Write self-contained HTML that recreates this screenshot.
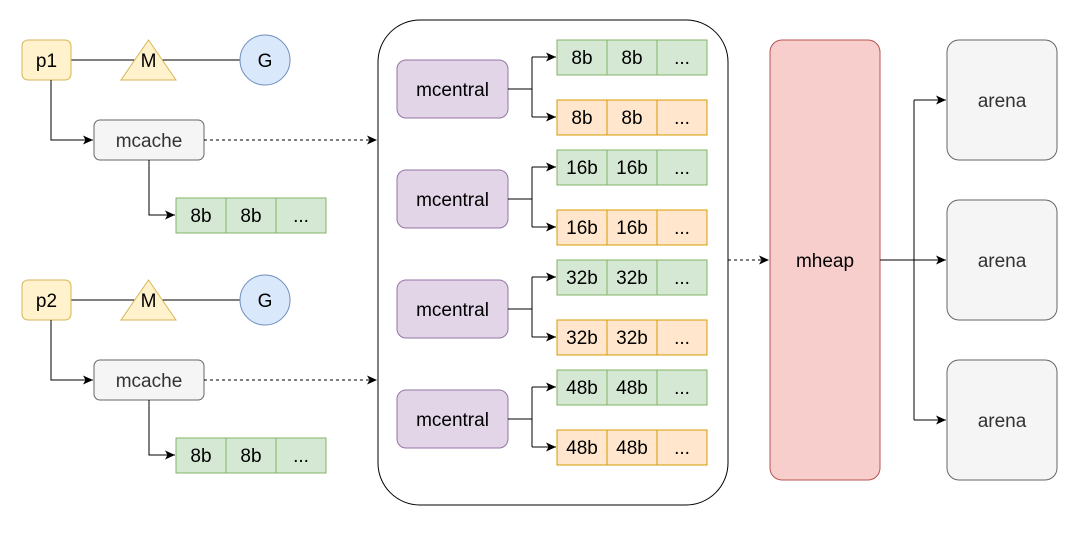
<!DOCTYPE html><html><head><style>body{margin:0;background:#fff}</style></head><body>
<svg width="1078" height="529" xmlns="http://www.w3.org/2000/svg" font-family="Liberation Sans, Arial, sans-serif" font-size="19">
<defs><marker id="a" markerWidth="12" markerHeight="12" refX="11" refY="6" orient="auto" markerUnits="userSpaceOnUse"><path d="M1,1.5 L11,6 L1,10.5 L3.5,6 z" fill="#000"/></marker></defs>
<rect x="378" y="20" width="350" height="485" rx="42" fill="#fff" stroke="#000"/>
<g>
<line x1="71" y1="60" x2="240" y2="60" stroke="#000"/>
<rect x="22" y="40" width="49" height="40" rx="6" fill="#fff2cc" stroke="#d6b656"/>
<text x="46.5" y="67" text-anchor="middle">p1</text>
<polygon points="148.5,40 176,80 121,80" fill="#fff2cc" stroke="#d6b656"/>
<text x="148.5" y="67" text-anchor="middle">M</text>
<circle cx="265" cy="60" r="25" fill="#dae8fc" stroke="#6c8ebf"/>
<text x="265" y="67" text-anchor="middle">G</text>
<path d="M51,80 V140 H93" fill="none" stroke="#000" marker-end="url(#a)"/>
<rect x="94" y="120" width="110" height="40" rx="6" fill="#f5f5f5" stroke="#666"/>
<text x="149" y="147" text-anchor="middle" fill="#333">mcache</text>
<path d="M204,140 H377" fill="none" stroke="#000" stroke-dasharray="3,3" marker-end="url(#a)"/>
<path d="M149,160 V215 H175" fill="none" stroke="#000" marker-end="url(#a)"/>
<g fill="#d5e8d4" stroke="#82b366"><rect x="176" y="198" width="50" height="35"/><rect x="226" y="198" width="50" height="35"/><rect x="276" y="198" width="50" height="35"/></g>
<g text-anchor="middle"><text x="201" y="222">8b</text><text x="251" y="222">8b</text><text x="301" y="222">...</text></g>
</g>
<g transform="translate(0,240)">
<line x1="71" y1="60" x2="240" y2="60" stroke="#000"/>
<rect x="22" y="40" width="49" height="40" rx="6" fill="#fff2cc" stroke="#d6b656"/>
<text x="46.5" y="67" text-anchor="middle">p2</text>
<polygon points="148.5,40 176,80 121,80" fill="#fff2cc" stroke="#d6b656"/>
<text x="148.5" y="67" text-anchor="middle">M</text>
<circle cx="265" cy="60" r="25" fill="#dae8fc" stroke="#6c8ebf"/>
<text x="265" y="67" text-anchor="middle">G</text>
<path d="M51,80 V140 H93" fill="none" stroke="#000" marker-end="url(#a)"/>
<rect x="94" y="120" width="110" height="40" rx="6" fill="#f5f5f5" stroke="#666"/>
<text x="149" y="147" text-anchor="middle" fill="#333">mcache</text>
<path d="M204,140 H377" fill="none" stroke="#000" stroke-dasharray="3,3" marker-end="url(#a)"/>
<path d="M149,160 V215 H175" fill="none" stroke="#000" marker-end="url(#a)"/>
<g fill="#d5e8d4" stroke="#82b366"><rect x="176" y="198" width="50" height="35"/><rect x="226" y="198" width="50" height="35"/><rect x="276" y="198" width="50" height="35"/></g>
<g text-anchor="middle"><text x="201" y="222">8b</text><text x="251" y="222">8b</text><text x="301" y="222">...</text></g>
</g>
<g>
<rect x="397" y="60" width="111" height="58" rx="9" fill="#e1d5e7" stroke="#9673a6"/>
<text x="452.5" y="96" text-anchor="middle">mcentral</text>
<path d="M508,89 H532 V57 M532,89 V117" fill="none" stroke="#000"/>
<path d="M532,57 H556" marker-end="url(#a)" stroke="#000"/><path d="M532,117 H556" marker-end="url(#a)" stroke="#000"/>
<g fill="#d5e8d4" stroke="#82b366"><rect x="557" y="40" width="50" height="35"/><rect x="607" y="40" width="50" height="35"/><rect x="657" y="40" width="50" height="35"/></g>
<g fill="#ffe6cc" stroke="#d79b00"><rect x="557" y="100" width="50" height="35"/><rect x="607" y="100" width="50" height="35"/><rect x="657" y="100" width="50" height="35"/></g>
<g text-anchor="middle"><text x="582" y="64">8b</text><text x="632" y="64">8b</text><text x="682" y="64">...</text><text x="582" y="124">8b</text><text x="632" y="124">8b</text><text x="682" y="124">...</text></g>
</g>
<g transform="translate(0,110)">
<rect x="397" y="60" width="111" height="58" rx="9" fill="#e1d5e7" stroke="#9673a6"/>
<text x="452.5" y="96" text-anchor="middle">mcentral</text>
<path d="M508,89 H532 V57 M532,89 V117" fill="none" stroke="#000"/>
<path d="M532,57 H556" marker-end="url(#a)" stroke="#000"/><path d="M532,117 H556" marker-end="url(#a)" stroke="#000"/>
<g fill="#d5e8d4" stroke="#82b366"><rect x="557" y="40" width="50" height="35"/><rect x="607" y="40" width="50" height="35"/><rect x="657" y="40" width="50" height="35"/></g>
<g fill="#ffe6cc" stroke="#d79b00"><rect x="557" y="100" width="50" height="35"/><rect x="607" y="100" width="50" height="35"/><rect x="657" y="100" width="50" height="35"/></g>
<g text-anchor="middle"><text x="582" y="64">16b</text><text x="632" y="64">16b</text><text x="682" y="64">...</text><text x="582" y="124">16b</text><text x="632" y="124">16b</text><text x="682" y="124">...</text></g>
</g>
<g transform="translate(0,220)">
<rect x="397" y="60" width="111" height="58" rx="9" fill="#e1d5e7" stroke="#9673a6"/>
<text x="452.5" y="96" text-anchor="middle">mcentral</text>
<path d="M508,89 H532 V57 M532,89 V117" fill="none" stroke="#000"/>
<path d="M532,57 H556" marker-end="url(#a)" stroke="#000"/><path d="M532,117 H556" marker-end="url(#a)" stroke="#000"/>
<g fill="#d5e8d4" stroke="#82b366"><rect x="557" y="40" width="50" height="35"/><rect x="607" y="40" width="50" height="35"/><rect x="657" y="40" width="50" height="35"/></g>
<g fill="#ffe6cc" stroke="#d79b00"><rect x="557" y="100" width="50" height="35"/><rect x="607" y="100" width="50" height="35"/><rect x="657" y="100" width="50" height="35"/></g>
<g text-anchor="middle"><text x="582" y="64">32b</text><text x="632" y="64">32b</text><text x="682" y="64">...</text><text x="582" y="124">32b</text><text x="632" y="124">32b</text><text x="682" y="124">...</text></g>
</g>
<g transform="translate(0,330)">
<rect x="397" y="60" width="111" height="58" rx="9" fill="#e1d5e7" stroke="#9673a6"/>
<text x="452.5" y="96" text-anchor="middle">mcentral</text>
<path d="M508,89 H532 V57 M532,89 V117" fill="none" stroke="#000"/>
<path d="M532,57 H556" marker-end="url(#a)" stroke="#000"/><path d="M532,117 H556" marker-end="url(#a)" stroke="#000"/>
<g fill="#d5e8d4" stroke="#82b366"><rect x="557" y="40" width="50" height="35"/><rect x="607" y="40" width="50" height="35"/><rect x="657" y="40" width="50" height="35"/></g>
<g fill="#ffe6cc" stroke="#d79b00"><rect x="557" y="100" width="50" height="35"/><rect x="607" y="100" width="50" height="35"/><rect x="657" y="100" width="50" height="35"/></g>
<g text-anchor="middle"><text x="582" y="64">48b</text><text x="632" y="64">48b</text><text x="682" y="64">...</text><text x="582" y="124">48b</text><text x="632" y="124">48b</text><text x="682" y="124">...</text></g>
</g>
<path d="M728,260 H769" fill="none" stroke="#000" stroke-dasharray="3,3" marker-end="url(#a)"/>
<rect x="770" y="40" width="110" height="440" rx="12" fill="#f8cecc" stroke="#b85450"/>
<text x="825" y="267" text-anchor="middle">mheap</text>
<path d="M880,260 H914 M914,100 V420" fill="none" stroke="#000"/>
<path d="M914,100 H946" stroke="#000" marker-end="url(#a)"/>
<path d="M914,260 H946" stroke="#000" marker-end="url(#a)"/>
<path d="M914,420 H946" stroke="#000" marker-end="url(#a)"/>
<g fill="#f5f5f5" stroke="#666"><rect x="947" y="40" width="110" height="120" rx="12"/><rect x="947" y="200" width="110" height="120" rx="12"/><rect x="947" y="360" width="110" height="120" rx="12"/></g>
<g text-anchor="middle" fill="#333"><text x="1002" y="107">arena</text><text x="1002" y="267">arena</text><text x="1002" y="427">arena</text></g>
</svg></body></html>
